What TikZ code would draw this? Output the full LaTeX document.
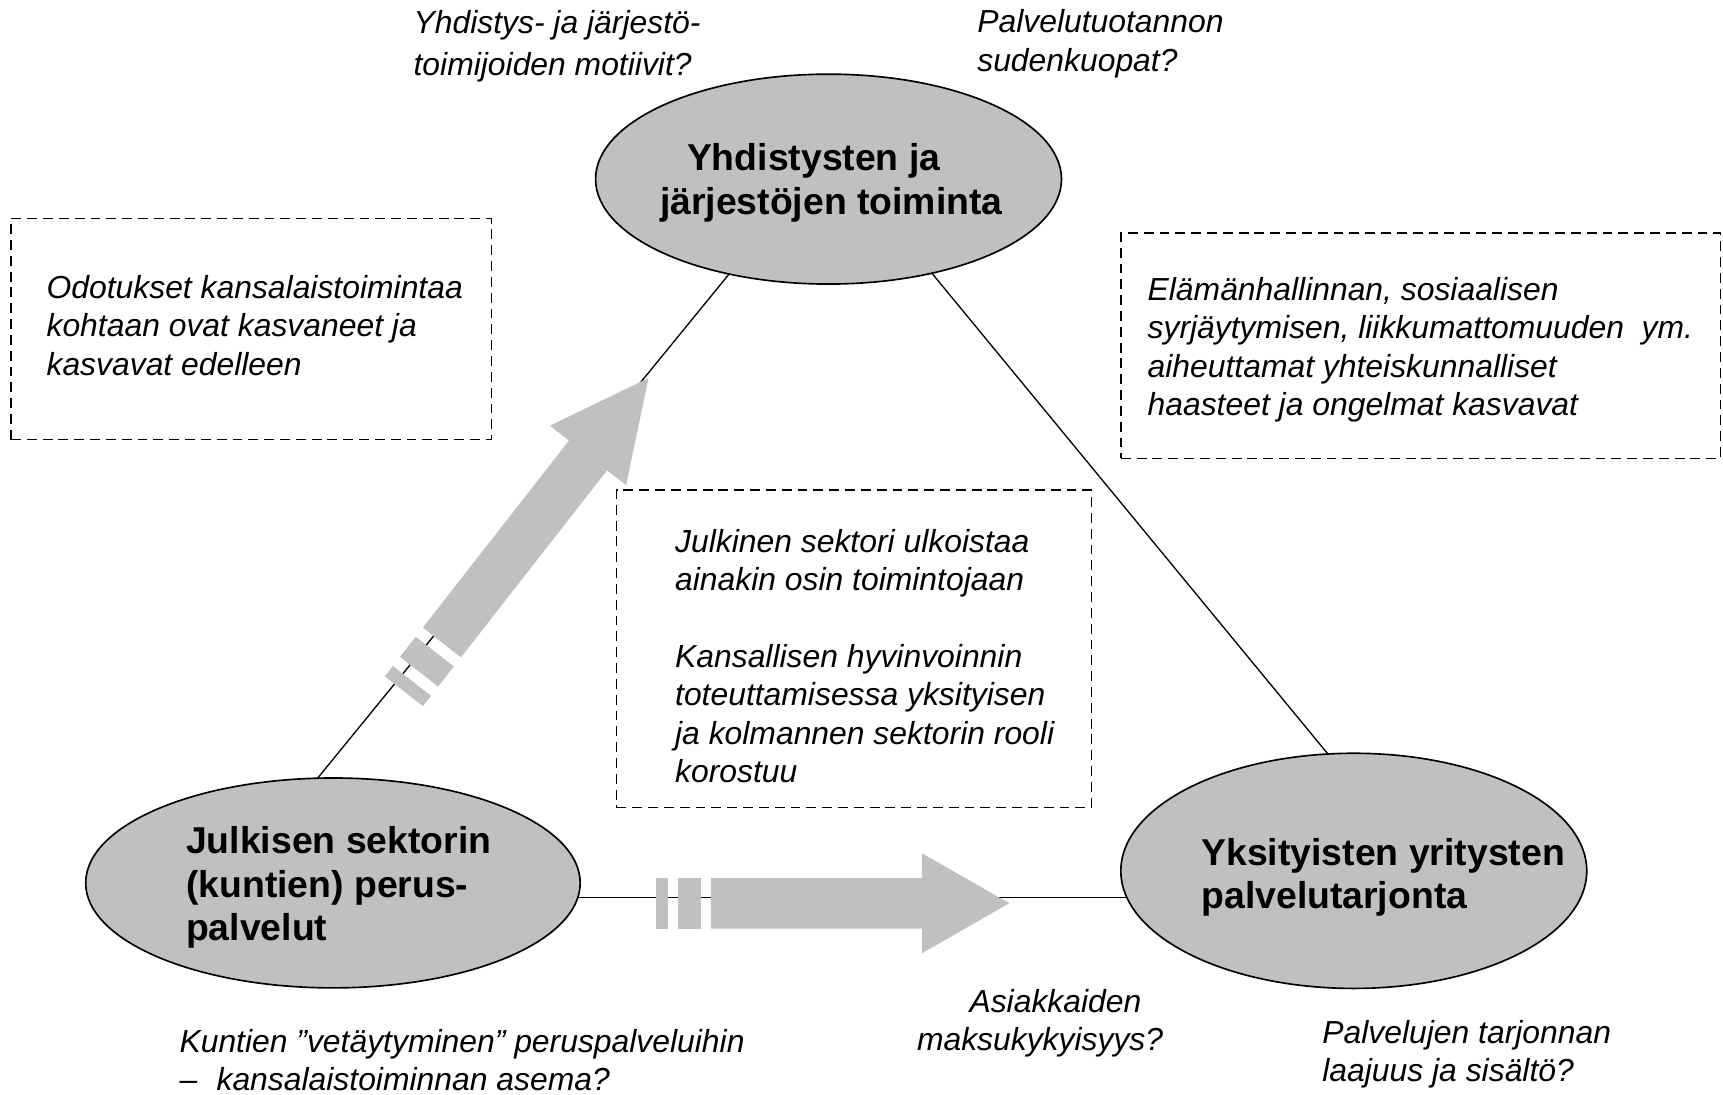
\documentclass[tikz,border=0pt]{standalone}
\usepackage{fontspec}
\setmainfont{Liberation Sans}
\usetikzlibrary{shapes.geometric,backgrounds}
\definecolor{lg}{RGB}{192,192,192}
\newcommand{\myst}{\rule{0pt}{12pt}}
\newcommand{\mybst}{\rule{0pt}{14pt}}
\newcommand{\grayarrow}[2]{%
  \fill[arr] (0,-#1) rectangle (10.6,#1);
  \fill[arr] (20,-#1) rectangle (40.6,#1);
  \fill[arr] (50,-#1) -- (242,-#1) -- (242,-#2) -- (321.5,0) -- (242,#2) -- (242,#1) -- (50,#1) -- cycle;}
\begin{document}
\begin{tikzpicture}[x=0.5pt,y=-0.5pt,
  ell/.style={ellipse, draw=black, line width=0.75pt, fill=lg, inner sep=0pt},
  btext/.style={font=\fontsize{17}{20}\selectfont\bfseries, inner sep=0pt},
  itext/.style={font=\fontsize{14.5}{17.5}\selectfont\itshape, align=left, inner sep=0pt, anchor=north west},
  dbox/.style={draw=black, line width=0.6pt, dash pattern=on 4.5pt off 2.7pt, inner sep=0pt},
  conn/.style={draw=black, line width=0.6pt},
  arr/.style={fill=lg}]
\useasboundingbox (0,0) rectangle (1568,996);

% ellipses
\node[ell, minimum width=212pt, minimum height=95.5pt] (top) at (754,163) {};
\node[ell, minimum width=225pt, minimum height=95.5pt] (left) at (303,803.5) {};
\node[ell, minimum width=212pt, minimum height=107pt] (right) at (1232,792.5) {};

% ellipse texts
\node[btext, align=center, anchor=north] (topT) at (756.5,127) {\mybst Yhdistysten ja\hspace*{16pt}\\järjestöjen toiminta};
\node[btext, align=left, anchor=north west, font=\fontsize{17}{19.7}\selectfont\bfseries] (leftT) at (169,748.5) {\mybst Julkisen sektorin\\(kuntien) perus-\\palvelut};
\node[btext, align=left, anchor=north west, font=\fontsize{17}{19.5}\selectfont\bfseries] (rightT) at (1093,759) {\mybst Yksityisten yritysten\\palvelutarjonta};

% connectors
\begin{pgfonlayer}{background}
\draw[conn] ([shift={(-50.2,37)}]top.center) -- ([shift={(-72.6,-23.5)}]left.center);
\draw[conn] ([shift={(54,37)}]top.center) -- ([shift={(20.8,-52.5)}]right.center);
\draw[conn] ([shift={(0,13.5)}]left.center) -- ([shift={(0,24.5)}]right.center);
\end{pgfonlayer}

% gray arrows
\begin{scope}[shift={(367.5,629)}, rotate=52, xscale=1.125]
  \grayarrow{22}{44}
\end{scope}
\begin{scope}[shift={(597,822)}]
  \grayarrow{23}{45.5}
\end{scope}

% dashed boxes
\node[dbox, minimum width=218.5pt, minimum height=100.5pt] (boxL) at (228.5,299.5) {};
\node[dbox, minimum width=273pt, minimum height=102.5pt] (boxR) at (1293,314.5) {};
\node[dbox, minimum width=216pt, minimum height=144.5pt] (boxC) at (777,590.5) {};

% box texts
\node[itext] (boxLT) at (42,247) {\myst Odotukset kansalaistoimintaa\\kohtaan ovat kasvaneet ja\\kasvavat edelleen};
\node[itext] (boxRT) at (1044,249) {\myst Elämänhallinnan, sosiaalisen\\syrjäytymisen, liikkumattomuuden\ \ ym.\\aiheuttamat yhteiskunnalliset\\haasteet ja ongelmat kasvavat};
\node[itext] (boxCT) at (614,478) {\myst Julkinen sektori ulkoistaa\\ainakin osin toimintojaan\\[17.5pt]Kansallisen hyvinvoinnin\\toteuttamisessa yksityisen\\ja kolmannen sektorin rooli\\korostuu};

% free labels
\node[itext, font=\fontsize{14.5}{19}\selectfont\itshape] (qTL) at (376,6) {\myst Yhdistys- ja järjestö-\\toimijoiden motiivit?};
\node[itext, font=\fontsize{14.5}{18}\selectfont\itshape] (qTR) at (889,5) {\myst Palvelutuotannon\\sudenkuopat?};
\node[itext] (qBL) at (163,933) {\myst Kuntien ”vetäytyminen” peruspalveluihin\\–\hspace{8.8pt}kansalaistoiminnan asema?};
\node[itext, align=center, anchor=north] (qBM) at (946.5,897) {\myst\hspace*{14pt}Asiakkaiden\\maksukykyisyys?};
\node[itext] (qBR) at (1203,925) {\myst Palvelujen tarjonnan\\laajuus ja sisältö?};
\end{tikzpicture}
\end{document}
